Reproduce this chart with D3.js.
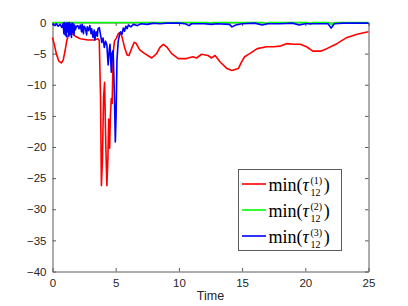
<!DOCTYPE html>
<html><head><meta charset="utf-8">
<script src="https://cdn.jsdelivr.net/npm/d3@7"></script>
<style>body{margin:0;background:#fff}svg{display:block}</style>
</head><body>
<svg id="c" width="408" height="306"></svg>
<script>
const xTicks = [0, 5, 10, 15, 20, 25];
const yTicks = [0, -5, -10, -15, -20, -25, -30, -35, -40];
const xLabel = "Time";
const seriesNames = ["(1)", "(2)", "(3)"];
const seriesColors = ["#ff0000", "#00ff00", "#0000ff"];

const redSeries = [
  [0,-2.4],[0.15,-3.6],[0.3,-5.0],[0.5,-6.2],[0.7,-6.5],[0.85,-6.0],[1.0,-4.5],[1.12,-3.0],[1.25,-2.0],[1.4,-1.6],
  [1.6,-1.8],[1.8,-2.2],[2.2,-2.6],[2.8,-2.8],[3.3,-2.8],[3.6,-2.6],[3.7,-2.9],[3.8,-12],[3.87,-26.2],[3.95,-22],
  [4.04,-12],[4.12,-9.6],[4.22,-20],[4.3,-26.2],[4.38,-22],[4.45,-15.5],[4.52,-20.2],[4.58,-15],[4.65,-12.2],[4.72,-13],
  [4.8,-5],[4.9,-3],[5.05,-2.5],[5.2,-1.8],[5.35,-1.6],[5.5,-2.3],[5.7,-4.0],[5.9,-5.2],[6.05,-5.3],[6.2,-4.5],
  [6.45,-3.2],[6.6,-3.3],[6.9,-4.4],[7.3,-5.0],[7.85,-5.7],[8.24,-5.0],[8.5,-4.0],[8.77,-3.5],[9.03,-3.9],[9.43,-5.0],
  [9.95,-5.8],[10.6,-5.8],[11.1,-5.5],[11.4,-5.7],[11.8,-5.1],[12.3,-5.3],[12.6,-5.7],[12.86,-5.3],[13.25,-6.3],[13.8,-7.4],
  [14.2,-7.7],[14.5,-7.5],[14.7,-7.4],[14.97,-6.3],[15.2,-5.5],[15.6,-5.0],[16.2,-4.2],[16.95,-3.9],[17.5,-3.9],[18.0,-3.8],
  [18.5,-3.4],[19.1,-3.5],[19.6,-3.5],[20.1,-3.9],[20.6,-4.6],[21.2,-4.6],[21.7,-4.2],[22.5,-3.4],[23.3,-2.4],[24.1,-1.9],[25,-1.5]
];
const greenSeries = [
  [0,0],[5,0],[10,0],[12.3,0],[12.5,-0.2],[12.7,0],[16.7,0],[16.9,-0.35],[17.1,0],[20.2,0],[20.4,-0.3],[20.6,0],
  [21.9,0],[22.1,-0.4],[22.3,0],[25,0]
];
const blueSeries = [
  [0,-0.2],[0.2,-0.5],[0.3,-0.2],[0.45,-0.6],[0.6,-0.3],[0.75,-0.8],[0.85,-0.1],[0.9,-1.8],[0.95,0],[1.0,-2.0],
  [1.05,-0.2],[1.1,-2.3],[1.15,0],[1.2,-1.5],[1.25,-0.1],[1.3,-2.2],[1.35,0],[1.4,-1.9],[1.45,-0.3],[1.5,-2.4],
  [1.55,-0.1],[1.6,-1.6],[1.65,-0.2],[1.7,-2.0],[1.75,-0.4],[1.8,-1.2],[1.9,-0.6],[2.0,-0.5],[2.1,-1.0],[2.2,-0.4],
  [2.3,-1.5],[2.35,-0.3],[2.45,-1.8],[2.5,-0.6],[2.6,-0.9],[2.7,-2.0],[2.75,-0.7],[2.85,-1.3],[2.95,-0.5],[3.05,-1.8],
  [3.1,-1.0],[3.2,-2.4],[3.3,-1.2],[3.35,-2.8],[3.45,-1.5],[3.55,-2.2],[3.6,-1.0],[3.7,-0.8],[3.8,-2.0],[3.9,-3.2],
  [4.0,-2.5],[4.1,-4.0],[4.2,-3.0],[4.3,-3.6],[4.4,-6.8],[4.5,-4.2],[4.55,-3.5],[4.65,-8],[4.7,-5],[4.8,-4.5],
  [4.9,-12],[4.97,-19.2],[5.03,-15],[5.1,-6],[5.2,-3.0],[5.3,-2.0],[5.4,-1.5],[5.5,-1.9],[5.6,-0.9],[5.7,-1.4],
  [5.8,-0.6],[5.9,-1.0],[6.0,-0.4],[6.2,-0.7],[6.4,-0.3],[6.7,-0.5],[7.0,-0.2],[7.5,-0.3],[8,-0.1],[8.5,-0.2],
  [9,-0.1],[10,-0.1],[10.5,-0.2],[10.8,-0.5],[11,-0.2],[12,-0.2],[12.6,-0.3],[13,-0.2],[14,-0.3],[14.2,-0.7],
  [14.5,-0.4],[15,-0.2],[16,-0.1],[16.6,-0.4],[17,-0.2],[18,-0.2],[19,-0.1],[19.5,-0.4],[20,-0.2],[21,-0.2],
  [21.8,-0.2],[22.05,-0.9],[22.3,-0.2],[23,-0.1],[25,-0.1]
];

const svg = d3.select("#c");
const L = 52.5, R = 368.5, T = 22.5, B = 271.5;
const x = d3.scaleLinear().domain([0, 25]).range([L, R]);
const y = d3.scaleLinear().domain([-40, 0]).range([B, T]);
const axisColor = "#5a5a5a";
const tickLen = 3.5;
const font = "'Liberation Sans', Arial, Helvetica, sans-serif";

// axes box with inward ticks
const gx = svg.append("g").attr("transform", `translate(0,${B})`)
  .call(d3.axisBottom(x).tickValues(xTicks).tickSizeInner(-tickLen).tickSizeOuter(0).tickPadding(7).tickFormat(d3.format("d")));
const gxt = svg.append("g").attr("transform", `translate(0,${T})`)
  .call(d3.axisTop(x).tickValues(xTicks).tickSizeInner(-tickLen).tickSizeOuter(0).tickFormat(""));
const gy = svg.append("g").attr("transform", `translate(${L},0)`)
  .call(d3.axisLeft(y).tickValues(yTicks).tickSizeInner(-tickLen).tickSizeOuter(0).tickPadding(6).tickFormat(d3.format("d")));
const gyr = svg.append("g").attr("transform", `translate(${R},0)`)
  .call(d3.axisRight(y).tickValues(yTicks).tickSizeInner(-tickLen).tickSizeOuter(0).tickFormat(""));
[gx, gxt, gy, gyr].forEach(g => {
  g.selectAll(".domain").attr("stroke", axisColor);
  g.selectAll(".tick line").attr("stroke", axisColor);
  g.selectAll("text").attr("fill", "#262626").style("font-family", font).style("font-size", "11.5px");
});

// data lines (drawn above the axes box)
const line = d3.line().x(d => x(d[0])).y(d => y(d[1]));
[redSeries, greenSeries, blueSeries].forEach((s, i) => {
  svg.append("path").datum(s).attr("d", line)
    .attr("fill", "none").attr("stroke", seriesColors[i])
    .attr("stroke-width", 1.6).attr("stroke-linejoin", "round");
});

svg.append("text").attr("x", (L + R) / 2).attr("y", 300).attr("text-anchor", "middle")
  .attr("fill", "#262626").style("font-family", font).style("font-size", "12.5px").text(xLabel);

// legend
const lg = svg.append("g");
lg.append("rect").attr("x", 238.5).attr("y", 169.5).attr("width", 103).attr("height", 81)
  .attr("fill", "#fff").attr("stroke", axisColor).attr("stroke-width", 1);
const serif = "'Liberation Serif', 'Times New Roman', serif";
seriesNames.forEach((nm, i) => {
  const cy = 184 + i * 26;
  lg.append("line").attr("x1", 242).attr("x2", 266).attr("y1", cy).attr("y2", cy)
    .attr("stroke", seriesColors[i]).attr("stroke-width", 1.6);
  const base = cy + 6.5;
  const t = lg.append("text").attr("x", 268.5).attr("y", base)
    .style("font-family", serif).style("font-size", "18px").attr("fill", "#000");
  t.append("tspan").text("min(");
  t.append("tspan").style("font-style", "italic").text("\u03c4");
  const w = t.node().getComputedTextLength();
  const sx = 268.5 + w + 1.5;
  const sup = lg.append("text").attr("x", sx).attr("y", base - 6.5)
    .style("font-family", serif).style("font-size", "10px").text(nm);
  const sub = lg.append("text").attr("x", sx).attr("y", base + 5)
    .style("font-family", serif).style("font-size", "10px").text("12");
  const w2 = Math.max(sup.node().getComputedTextLength(), sub.node().getComputedTextLength());
  lg.append("text").attr("x", sx + w2 + 1.5).attr("y", base)
    .style("font-family", serif).style("font-size", "18px").text(")");
});
</script>
</body></html>
